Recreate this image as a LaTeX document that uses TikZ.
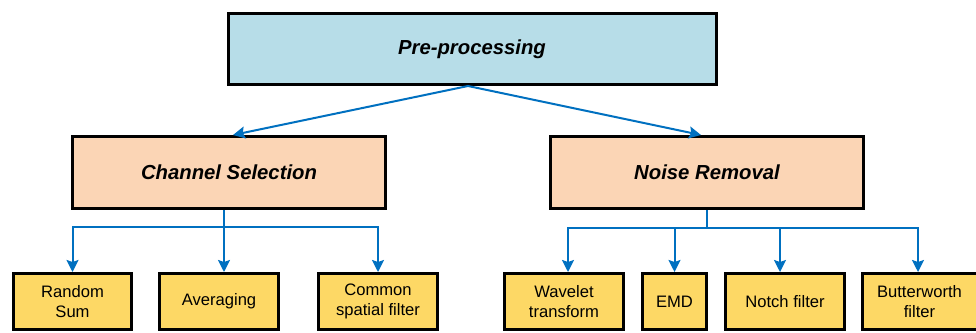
\documentclass[tikz,border=0pt]{standalone}
\usepackage{fontspec}
\setmainfont{Liberation Sans}
\usepackage{tikz}
\usetikzlibrary{arrows.meta,calc}
\definecolor{topblue}{HTML}{B7DDE8}
\definecolor{midpeach}{HTML}{FBD5B5}
\definecolor{leafyellow}{HTML}{FDD865}
\definecolor{linkblue}{HTML}{0070C0}

\begin{document}
\begin{tikzpicture}[x=1pt,y=-1pt,>={Stealth[length=12pt,width=12pt,inset=2pt]},
    topbox/.style={draw=black,line width=3pt,fill=topblue,minimum width=488pt,minimum height=71pt,
                   font=\fontsize{20.3}{23}\selectfont\bfseries\itshape},
    midbox/.style={draw=black,line width=3pt,fill=midpeach,minimum width=313pt,minimum height=72pt,
                   font=\fontsize{20.3}{23}\selectfont\bfseries\itshape},
    leafbox/.style={draw=black,line width=3pt,fill=leafyellow,minimum height=56pt,inner sep=2pt,
                    align=center,font=\fontsize{16.6}{20}\selectfont},
    link/.style={linkblue,line width=2pt}]
  \useasboundingbox (0,0) rectangle (976,332);

  \node[topbox] (pre) at (472,49) {Pre-processing};
  \node[midbox] (chsel) at (229,172.5) {Channel Selection};
  \node[midbox] (noise) at (707,172.5) {Noise Removal};

  % leaves of channel selection
  \node[leafbox,minimum width=118pt] (rsum) at (72.5,301.5) {Random\\Sum};
  \node[leafbox,minimum width=119pt] (avg) at (219,301.5) {Averaging};
  \node[leafbox,minimum width=119pt] (csp) at (378,301.5) {Common\\spatial filter};

  % leaves of noise removal
  \node[leafbox,minimum width=119pt] (wave) at (564,301.5) {Wavelet\\transform};
  \node[leafbox,minimum width=64pt] (emd) at (674.5,301.5) {EMD};
  \node[leafbox,minimum width=119pt] (notch) at (785,301.5) {Notch filter};
  \node[leafbox,minimum width=115pt] (butter) at (919.5,301.5) {Butterworth\\filter};

  \draw[link,->] ($(pre.south)+(-4,0)$) -- ($(chsel.north)+(4,0)$);
  \draw[link,->] ($(pre.south)+(-4,0)$) -- ($(noise.north)+(-6,0)$);

  \coordinate (chhub) at (224,227);
  \draw[link] (chhub |- chsel.south) -- (chhub);
  \draw[link,->] (chhub) -| (rsum.north);
  \draw[link,->] (chhub) -- (chhub |- avg.north);
  \draw[link,->] (chhub) -| (csp.north);

  \coordinate (nshub) at (707,228);
  \draw[link] (noise.south) -- (nshub);
  \draw[link,->] (nshub) -| ($(wave.north)+(4,0)$);
  \draw[link,->] (nshub) -| (emd.north);
  \draw[link,->] (nshub) -| ($(notch.north)+(-5,0)$);
  \draw[link,->] (nshub) -| ($(butter.north)+(-1.5,0)$);
\end{tikzpicture}
\end{document}
